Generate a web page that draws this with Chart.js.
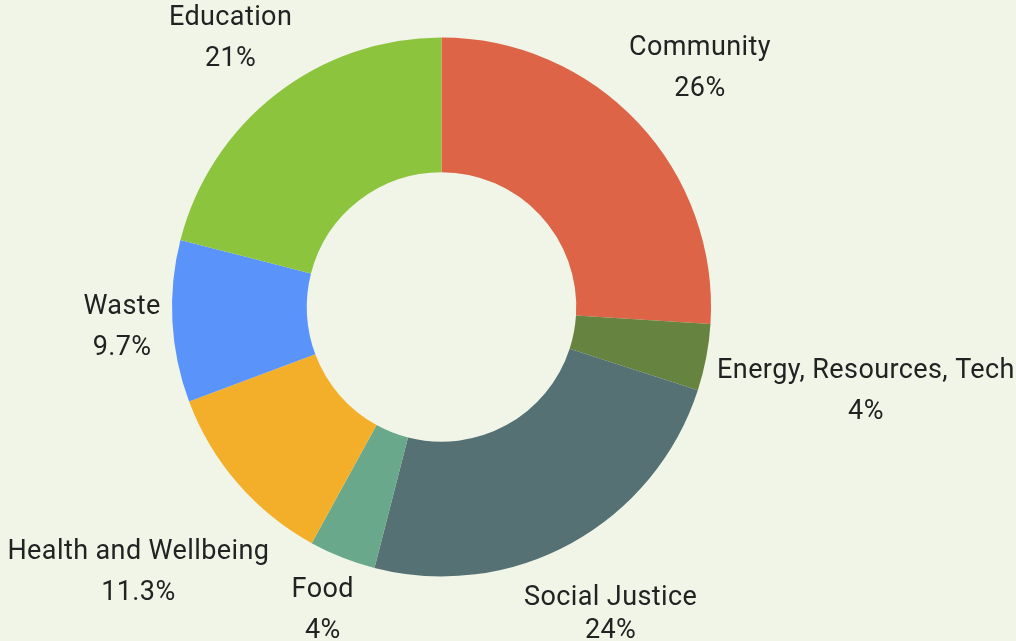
<!DOCTYPE html>
<html>
<head>
<meta charset="utf-8">
<script src="https://cdn.jsdelivr.net/npm/chart.js@4/dist/chart.umd.min.js"></script>
<style>
  html, body { margin: 0; padding: 0; background: #F0F5E8; }
  #wrap { width: 1016px; height: 641px; position: relative; }
</style>
</head>
<body>
<div id="wrap"><canvas id="c" width="1016" height="641"></canvas></div>
<script>
const categories = ["Community", "Energy, Resources, Tech", "Social Justice", "Food", "Health and Wellbeing", "Waste", "Education"];
const shares = [26, 4, 24, 4, 11.3, 9.7, 21];
const sliceColors = ["#DD6446", "#66843F", "#557173", "#69A88A", "#F4AF2A", "#5A94FA", "#8CC43E"];

const outLabels = {
  id: 'outLabels',
  afterDatasetsDraw(chart) {
    const ctx = chart.ctx;
    const meta = chart.getDatasetMeta(0);
    const fontSize = 27, lineGap = 41, pad = 10, yShift = 4;
    const maxY = chart.height - 10;
    ctx.save();
    ctx.font = fontSize + 'px Roboto, "Liberation Sans", Arial, sans-serif';
    try { ctx.letterSpacing = '0.4px'; } catch (e) {}
    ctx.fillStyle = '#222222';
    ctx.textAlign = 'center';
    ctx.textBaseline = 'middle';
    meta.data.forEach((arc, i) => {
      const p = arc.getProps(['x', 'y', 'startAngle', 'endAngle', 'outerRadius'], true);
      const mid = (p.startAngle + p.endAngle) / 2;
      const cx = Math.cos(mid), sy = Math.sin(mid);
      const l1 = categories[i];
      const l2 = shares[i] + '%';
      const w = Math.max(ctx.measureText(l1).width, ctx.measureText(l2).width);
      const hw = w / 2, hh = (lineGap + fontSize) / 2;
      const d = p.outerRadius + pad + Math.abs(cx) * hw + Math.abs(sy) * hh;
      const x = p.x + cx * d, y = p.y + sy * d + yShift;
      const y1 = y - lineGap / 2;
      const y2 = Math.min(y + lineGap / 2, maxY);
      ctx.fillText(l1, x, y1);
      ctx.fillText(l2, x, y2);
    });
    ctx.restore();
  }
};

new Chart(document.getElementById('c'), {
  type: 'doughnut',
  data: {
    labels: categories,
    datasets: [{
      data: shares,
      backgroundColor: sliceColors,
      borderWidth: 0
    }]
  },
  options: {
    responsive: false,
    animation: false,
    cutout: '50%',
    layout: { padding: { left: 172, right: 305, top: 37, bottom: 64 } },
    plugins: { legend: { display: false }, tooltip: { enabled: false } }
  },
  plugins: [outLabels]
});
</script>
</body>
</html>
